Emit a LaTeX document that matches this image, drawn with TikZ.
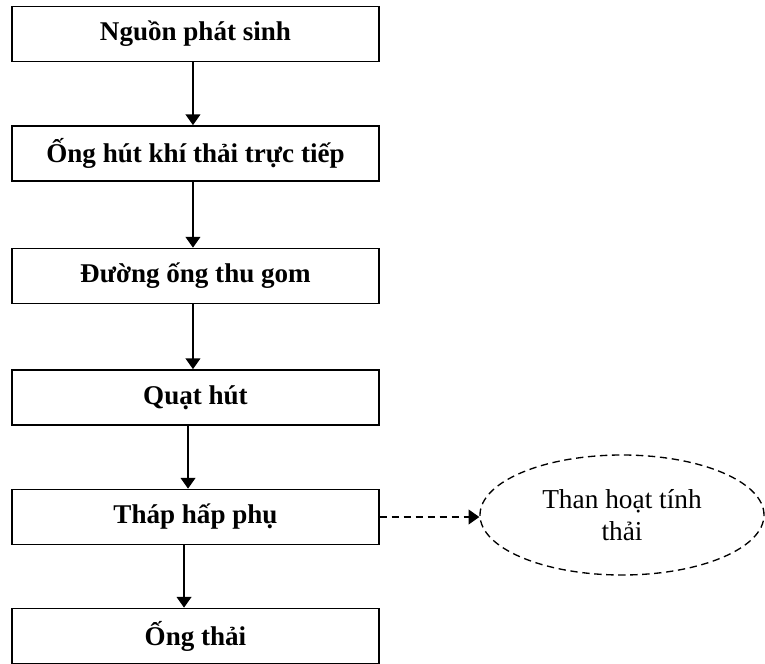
\documentclass[tikz,border=0pt]{standalone}
\usepackage{fontspec}
\setmainfont{Liberation Serif}
\usepackage{tikz}
\usetikzlibrary{arrows.meta,shapes.geometric}

\tikzset{
    stage/.style={rectangle, draw, line width=1.3pt, minimum width=275pt, minimum height=41.25pt,
                  inner sep=0pt, font=\fontsize{20.3}{24}\selectfont\bfseries},
    waste/.style={ellipse, draw, dashed, dash pattern=on 5.5pt off 3.5pt, line width=1pt,
                  minimum width=213pt, minimum height=90pt, inner sep=0pt, align=center,
                  font=\fontsize{20.5}{24}\selectfont},
    arr/.style={-{Triangle[length=8pt,width=11pt]}, line width=1.1pt}
}

\begin{document}
\begin{tikzpicture}[x=0.75pt, y=-0.75pt]
                        \useasboundingbox (0,0) rectangle (765,664);

                        \foreach \k/\j/\t in {1/34/{Nguồn phát sinh}, 2/153.5/{Ống hút khí thải trực tiếp},
                                              3/276/{Đường ống thu gom}, 4/397.5/{Quạt hút},
                                              5/517/{Tháp hấp phụ}, 6/636/{Ống thải}} {
                            \node (\k) at (195.5, \j) [stage] {\t};
                        }

                        \node (7) at (622, 515) [waste] {Than hoạt tính\\thải};

                        \foreach \a/\b/\s in {1/2/-1.9, 2/3/-1.9, 3/4/-1.9, 4/5/-5.6, 5/6/-8.6} {
                            \draw[arr] ([xshift=\s pt]\a.south) -- ([xshift=\s pt]\b.north);
                        }

                        \draw[arr, dashed, dash pattern=on 5.5pt off 3.5pt] (5.east) -- (5.east -| 7.west);
                    \end{tikzpicture}
\end{document}
